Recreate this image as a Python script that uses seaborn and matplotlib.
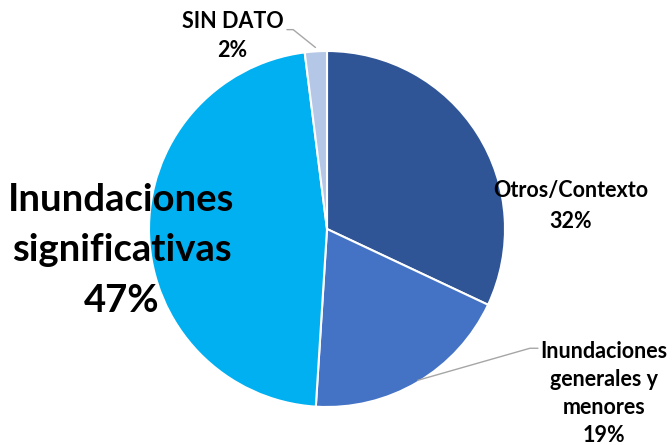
import matplotlib
matplotlib.use("Agg")
import matplotlib.pyplot as plt
import seaborn as sns

# data
labels = ["Otros/Contexto", "Inundaciones\ngenerales y\nmenores", "Inundaciones\nsignificativas", "SIN DATO"]
values = [32, 19, 47, 2]
colors = ["#2F5597", "#4472C4", "#00B0F0", "#B4C7E7"]

sns.set_theme(style="white")
plt.rcParams['font.family'] = ['Lato', 'DejaVu Sans']

fig = plt.figure(figsize=(6.72, 4.45), dpi=100)
R = 178  # px per data unit
ax = fig.add_axes([(327 - R * 1.9) / 672, (445 - 229 - R * 1.3) / 445,
                   R * 3.8 / 672, R * 2.6 / 445])

wedges, _ = ax.pie(values, colors=colors, startangle=90, counterclock=False,
                   radius=1.0, wedgeprops=dict(edgecolor="white", linewidth=1.5))
ax.set_xlim(-1.9, 1.9)
ax.set_ylim(-1.3, 1.3)
ax.set_aspect("auto")
ax.axis("off")

pct = [f"{v}%" for v in values]
small = dict(ha="center", va="center", fontsize=15.5, fontweight="bold",
             color="black")

# Otros/Contexto
ax.text(1.37, 0.13, labels[0] + "\n" + pct[0], linespacing=1.6, **small)
# generales y menores
ax.text(1.555, -0.925, labels[1] + "\n" + pct[1], linespacing=1.42, **small)
ax.plot([1.185, 1.14, 0.51], [-0.67, -0.67, -0.85], color="#A6A6A6", lw=1)
# significativas
ax.text(-1.155, -0.12, labels[2] + "\n" + pct[2], ha="center", va="center",
        fontsize=27.5, fontweight="bold", linespacing=1.6, color="black")
# SIN DATO
ax.text(-0.53, 1.085, labels[3] + "\n" + pct[3], linespacing=1.45, **small)
ax.plot([-0.225, -0.19, -0.065], [1.12, 1.12, 1.02], color="#A6A6A6", lw=1)

fig.savefig("out.png", dpi=100)
